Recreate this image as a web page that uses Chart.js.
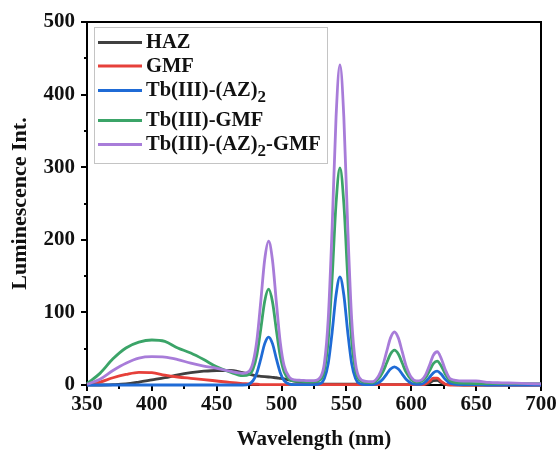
<!DOCTYPE html>
<html>
<head>
<meta charset="utf-8">
<script src="https://cdn.jsdelivr.net/npm/chart.js@4.4.1/dist/chart.umd.min.js"></script>
<style>
  html, body { margin: 0; padding: 0; background: #ffffff; }
  #wrap { width: 560px; height: 450px; }
</style>
</head>
<body>
<div id="wrap"><canvas id="c" width="560" height="450"></canvas></div>
<script>
// Emission wavelengths (nm); denser sampling around the Tb(III) lines
const wavelength = [
  350, 360, 370, 380, 390, 400, 410, 420, 430, 440, 450, 460, 470,
  475, 478, 481, 484, 487, 490, 493, 496, 499, 502, 506, 510, 515, 520, 525,
  530, 533, 536, 539, 542, 545, 548, 551, 554, 557, 560, 565, 570,
  575, 578, 581, 584, 587, 590, 593, 596, 600, 604, 608,
  611, 614, 617, 620, 623, 626, 630,
  640, 650, 660, 670, 680, 690, 700
];

const haz = [
  0, 0, 0.5, 1.5, 4, 7, 10, 14, 17, 19, 20, 20, 17,
  15, 13.5, 12.5, 12, 11.5, 11, 10.5, 10, 9, 8.5, 7, 5.5, 4, 3, 2,
  1.5, 1, 1, 1, 1, 1, 1, 1, 1, 1, 1, 0.5, 0.5,
  0.5, 0.5, 0.5, 0.5, 0.5, 0.5, 0.5, 0.5, 0.5, 0.5, 0.5,
  1, 2.5, 6, 6.5, 3.5, 1, 0.5,
  0, 0, 0, 0, 0, 0, 0
];

const gmf = [
  0, 4, 10, 14.5, 17.5, 17, 13.5, 11, 9.2, 7.5, 5.5, 3.5, 2,
  1.5, 1, 1, 0.5, 0.5, 0.5, 0.5, 0.5, 0.5, 0.5, 0.5, 0.5, 0.5, 0.5, 0.5,
  0.5, 0.5, 0.5, 0.5, 0.5, 0.5, 0.5, 0.5, 0.5, 0.5, 0.5, 0.5, 0.5,
  0.5, 0.5, 0.5, 0.5, 0.5, 0.5, 0.5, 0.5, 0.5, 0.5, 0.5,
  1.5, 5, 9.5, 9.5, 5, 1.5, 0,
  0, 0, 0, 0, 0, 0, 0
];

const tbAz = [
  0, 0, 0, 0, 0, 0, 0, 0, 0, 0, 0, 0, 0,
  1.5, 6, 17, 36, 57, 66, 57, 36, 17, 6, 1.2, 0.5, 0.5, 0.5, 0.5,
  2, 9, 30, 73, 124, 149, 124, 73, 30, 9, 2, 0.5, 0.5,
  3.4, 8, 15, 22, 25, 22, 15, 8, 2.5, 0.8, 1.3,
  4.5, 10.4, 16.8, 19, 15, 8.2, 2.1,
  0.5, 0.5, 0, 0, 0, 0, 0
];

const tbGmf = [
  2, 16, 36, 51, 59, 62, 60, 51, 44, 35, 25, 18, 13,
  14.5, 22, 42, 77.5, 115.5, 132, 114.5, 75.5, 39.5, 18, 7.8, 5.5, 5, 4.5, 4.5,
  7.3, 20.5, 62.4, 148, 250, 299, 250, 148, 62, 20, 6.8, 3.5, 3,
  9.1, 17.6, 30.3, 42.7, 48, 42.7, 30.3, 17.6, 7.3, 4, 5.1,
  10.1, 19.4, 29.5, 33, 26.5, 15.9, 5.8,
  2.5, 2, 2, 2, 2, 2, 2
];

const tbAzGmf = [
  1, 8, 20, 30, 37, 39, 38.5, 35, 30, 26, 23, 19, 16,
  19, 31.3, 62.2, 115.7, 172.8, 198, 171.8, 113.7, 58.7, 26.3, 10.7, 7, 6.5, 6, 6,
  10.9, 29.9, 91.7, 217.5, 369, 441, 369, 217.5, 91.7, 29.9, 9.9, 5, 4.5,
  13.3, 26.4, 45.9, 64.9, 73, 64.9, 45.9, 26.4, 10.6, 5.5, 7,
  13.9, 26.9, 41, 45.8, 36.9, 22.1, 8.6,
  5.5, 5.5, 3.5, 3, 2.5, 2, 1.5
];

const seriesNames = ['HAZ', 'GMF', 'Tb(III)-(AZ)2', 'Tb(III)-GMF', 'Tb(III)-(AZ)2-GMF'];
const seriesValues = [haz, gmf, tbAz, tbGmf, tbAzGmf];
const seriesColors = ['#404040', '#e6403a', '#1f6bd6', '#3ba468', '#a87cd9'];

const SERIF = '"Liberation Serif", "Times New Roman", serif';

function toPoints(values) {
  return wavelength.map((w, i) => ({ x: w, y: values[i] }));
}

// Frame round the plot area plus major/minor tick marks pointing outward
const framePlugin = {
  id: 'frame',
  beforeDatasetsDraw(chart) {
    const { ctx, chartArea: a, scales: { x, y } } = chart;
    ctx.save();
    ctx.strokeStyle = '#000';
    ctx.lineWidth = 2;
    ctx.strokeRect(a.left, a.top, a.right - a.left, a.bottom - a.top);
    ctx.beginPath();
    for (let v = 350; v <= 700; v += 25) {
      const px = Math.round(x.getPixelForValue(v));
      const len = v % 50 === 0 ? 6 : 4;
      ctx.moveTo(px, a.bottom);
      ctx.lineTo(px, a.bottom + len);
    }
    for (let v = 0; v <= 500; v += 50) {
      const py = Math.round(y.getPixelForValue(v));
      const len = v % 100 === 0 ? 6 : 3;
      ctx.moveTo(a.left, py);
      ctx.lineTo(a.left - len, py);
    }
    ctx.stroke();
    ctx.restore();
  }
};

// Boxed legend with subscripted digits in the complex names
const legendPlugin = {
  id: 'boxLegend',
  afterDraw(chart) {
    const { ctx } = chart;
    const box = { x: 94.5, y: 27.5, w: 233, h: 136 };
    const baselines = [48, 71.5, 96, 126, 150];
    ctx.save();
    ctx.fillStyle = '#ffffff';
    ctx.fillRect(box.x, box.y, box.w, box.h);
    ctx.strokeStyle = '#c4c4c4';
    ctx.lineWidth = 1;
    ctx.strokeRect(box.x, box.y, box.w, box.h);
    chart.data.datasets.forEach((ds, i) => {
      const base = baselines[i];
      ctx.strokeStyle = ds.borderColor;
      ctx.lineWidth = 3;
      ctx.beginPath();
      ctx.moveTo(98, base - 5.5);
      ctx.lineTo(142, base - 5.5);
      ctx.stroke();
      ctx.fillStyle = '#111';
      ctx.textBaseline = 'alphabetic';
      ctx.textAlign = 'left';
      let tx = 146;
      ds.label.split(/(\d)/).forEach(part => {
        if (!part) return;
        const sub = /^\d$/.test(part);
        ctx.font = (sub ? 'bold 17px ' : 'bold 20.5px ') + SERIF;
        ctx.fillText(part, tx, sub ? base + 6 : base);
        tx += ctx.measureText(part).width;
      });
    });
    ctx.restore();
  }
};

new Chart(document.getElementById('c'), {
  type: 'line',
  data: {
    datasets: seriesNames.map((name, i) => ({
      label: name,
      data: toPoints(seriesValues[i]),
      borderColor: seriesColors[i],
      backgroundColor: seriesColors[i],
      borderWidth: 2.8,
      pointRadius: 0,
      fill: false,
      cubicInterpolationMode: 'monotone',
      clip: 4,
      order: seriesNames.length - 1 - i
    }))
  },
  options: {
    responsive: false,
    devicePixelRatio: 1,
    animation: false,
    layout: { padding: { top: 22, right: 19, bottom: 0, left: 0 } },
    plugins: {
      legend: { display: false },
      tooltip: { enabled: false }
    },
    scales: {
      x: {
        type: 'linear',
        min: 350,
        max: 700,
        grid: { display: false, drawTicks: false },
        border: { display: false },
        ticks: {
          stepSize: 50,
          padding: 7,
          maxRotation: 0,
          autoSkip: false,
          color: '#111',
          font: { family: SERIF, size: 21, weight: 'bold' }
        },
        title: {
          display: true,
          text: 'Wavelength (nm)',
          color: '#111',
          font: { family: SERIF, size: 21, weight: 'bold', lineHeight: 1.0 },
          padding: { top: 0, bottom: 0 }
        },
        afterFit(scale) {
          scale.height = 65;
          scale.paddingLeft = 0;
          scale.paddingRight = 0;
        }
      },
      y: {
        min: 0,
        max: 500,
        grid: { display: false, drawTicks: false },
        border: { display: false },
        ticks: {
          stepSize: 100,
          padding: 12,
          color: '#111',
          font: { family: SERIF, size: 21, weight: 'bold' }
        },
        title: {
          display: true,
          text: 'Luminescence Int.',
          color: '#111',
          font: { family: SERIF, size: 22, weight: 'bold' },
          padding: { top: 7, bottom: 0 }
        },
        afterFit(scale) {
          scale.width = 87;
          scale.paddingTop = 0;
          scale.paddingBottom = 0;
        }
      }
    }
  },
  plugins: [framePlugin, legendPlugin]
});
</script>
</body>
</html>
